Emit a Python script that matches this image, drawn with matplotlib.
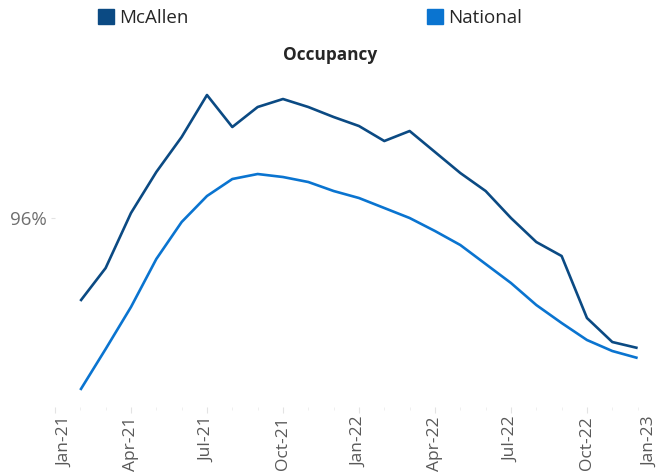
import matplotlib
matplotlib.use("Agg")
import matplotlib.pyplot as plt
from matplotlib.patches import Patch
from matplotlib.ticker import FixedLocator, FuncFormatter
from matplotlib.transforms import ScaledTranslation

plt.rcParams['font.family'] = ['Open Sans', 'DejaVu Sans']

# monthly occupancy, Feb-21 .. Dec-22 (month index 1 = Feb-21, 0 = Jan-21)
months = list(range(1, 24))
mcallen = [95.17, 95.50, 96.05, 96.46, 96.81, 97.23, 96.91, 97.11, 97.19, 97.11,
           97.01, 96.92, 96.77, 96.87, 96.66, 96.45, 96.27, 96.00, 95.76, 95.62,
           95.00, 94.76, 94.70]
national = [94.28, 94.69, 95.11, 95.59, 95.96, 96.22, 96.39, 96.44, 96.41, 96.36,
            96.27, 96.20, 96.10, 96.00, 95.87, 95.73, 95.54, 95.35, 95.13, 94.95,
            94.78, 94.67, 94.60]
tick_pos = [0, 3, 6, 9, 12, 15, 18, 21, 24]
tick_labels = ['Jan-21', 'Apr-21', 'Jul-21', 'Oct-21', 'Jan-22', 'Apr-22',
               'Jul-22', 'Oct-22', 'Jan-23']

c_mc = '#0b4a83'
c_nat = '#0a74d0'
grey = '#595959'

fig = plt.figure(figsize=(6.6, 4.73), dpi=100)
ax = fig.add_axes([0.0833, 0.1395, 0.9212, 0.7167])

ax.plot(months, mcallen, color=c_mc, lw=1.9, solid_capstyle='butt')
ax.plot(months, national, color=c_nat, lw=1.9, solid_capstyle='butt')

ax.set_xlim(0, 24)
ax.set_ylim(94.11, 97.5)
for s in ax.spines.values():
    s.set_visible(False)

ax.xaxis.set_major_locator(FixedLocator(tick_pos))
ax.set_xticklabels(tick_labels, rotation=90)
ax.xaxis.set_minor_locator(FixedLocator(range(25)))
ax.tick_params(axis='x', which='major', length=4, color='#e3e3e3', labelsize=12.5,
               labelcolor=grey, pad=3)
ax.tick_params(axis='x', which='minor', length=2.5, color='#ececec')

# end labels sit a little inward, as in the original
labels = ax.get_xticklabels()
labels[0].set_transform(labels[0].get_transform() + ScaledTranslation(0.10, 0, fig.dpi_scale_trans))
labels[-1].set_transform(labels[-1].get_transform() + ScaledTranslation(-0.13, 0, fig.dpi_scale_trans))

ax.set_yticks([96])
ax.yaxis.set_major_formatter(FuncFormatter(lambda v, p: f'{v:.0f}%'))
ax.tick_params(axis='y', length=3, color='#e3e3e3', labelsize=13.5,
               labelcolor='#6f6f6f', pad=3)

fig.text(0.5, 1 - 55 / 473, 'Occupancy', ha='center', va='center',
         fontsize=12.4, fontweight='bold', color='#262626')

for name, col, x0 in [('McAllen', c_mc, 98 / 660), ('National', c_nat, 427 / 660)]:
    leg = fig.legend(handles=[Patch(color=col, label=name)], loc='center left',
                     bbox_to_anchor=(x0, 1 - 18 / 473), frameon=False,
                     fontsize=13.5, handlelength=0.85, handleheight=0.85,
                     handletextpad=0.3, borderpad=0, borderaxespad=0)
    for t in leg.get_texts():
        t.set_color('#262626')

fig.savefig('out.png', dpi=100)
